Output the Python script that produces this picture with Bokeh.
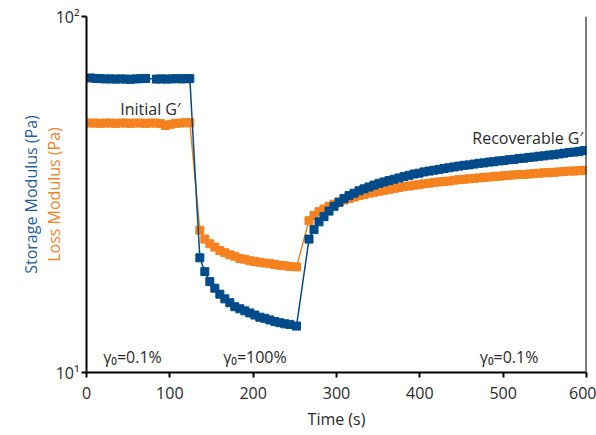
from bokeh.plotting import figure
from bokeh.models import FixedTicker, Span, Label, Title
from bokeh.embed import file_html
from bokeh.resources import INLINE

# ---- data ----
t_g1 = [5, 11, 17, 23, 29, 35, 41, 47, 53, 59, 65, 71, 84, 90, 96, 102, 108, 114, 119, 124]
g1_storage = [67.2, 67.0, 66.9, 66.8, 66.8, 66.7, 66.8, 66.7, 66.6, 66.8, 66.9, 67.0,
              66.7, 66.8, 66.7, 66.8, 66.9, 66.8, 66.9, 66.9]
t_l1 = [5, 11, 17, 23, 29, 35, 41, 47, 53, 59, 65, 71, 77, 83, 89, 95, 101, 107, 113, 119, 124]
l1_loss = [50.2, 50.2, 50.1, 50.2, 50.2, 50.1, 50.2, 50.2, 50.1, 50.2, 50.2, 50.1,
           50.2, 50.2, 50.0, 49.4, 49.8, 50.1, 50.2, 50.3, 50.3]

t_mid = [136, 142, 148, 154, 160, 166, 172, 178, 184, 190, 196, 202, 208, 214, 220,
         226, 232, 238, 244, 252]
mid_storage = [21.0, 19.2, 18.0, 17.25, 16.6, 16.1, 15.7, 15.3, 15.1, 14.9, 14.7, 14.5,
               14.3, 14.2, 14.05, 13.9, 13.8, 13.7, 13.65, 13.5]
mid_loss = [25.1, 23.7, 23.0, 22.5, 22.0, 21.7, 21.4, 21.2, 20.9, 20.8, 20.6, 20.5,
            20.4, 20.3, 20.25, 20.1, 20.0, 19.95, 19.85, 19.8]

t_rec = [267, 273, 279, 285, 291, 297, 303, 309, 315, 321, 327, 333, 339, 345, 351, 357,
         363, 369, 375, 381, 387, 393, 399, 405, 411, 417, 423, 429, 435, 441, 447, 453,
         459, 465, 471, 477, 483, 489, 495, 501, 507, 513, 519, 525, 531, 537, 543, 549,
         555, 561, 567, 573, 579, 585, 591, 597]
rec_storage = [23.7, 25.2, 26.5, 27.4, 28.4, 29.3, 30.1, 30.8, 31.4, 31.9, 32.4, 32.8,
               33.2, 33.6, 34.0, 34.3, 34.6, 34.9, 35.2, 35.5, 35.8, 36.1, 36.3, 36.6,
               36.8, 37.0, 37.2, 37.4, 37.6, 37.8, 38.0, 38.2, 38.3, 38.5, 38.7, 38.8,
               39.0, 39.1, 39.3, 39.4, 39.6, 39.7, 39.9, 40.0, 40.2, 40.3, 40.5, 40.6,
               40.8, 40.9, 41.1, 41.3, 41.5, 41.6, 41.8, 42.0]
rec_loss = [26.7, 27.6, 28.3, 28.8, 29.3, 29.7, 30.1, 30.5, 30.8, 31.1, 31.4, 31.6,
            31.9, 32.1, 32.3, 32.5, 32.7, 32.9, 33.1, 33.3, 33.4, 33.6, 33.7, 33.9,
            34.0, 34.2, 34.3, 34.4, 34.5, 34.7, 34.8, 34.9, 35.0, 35.1, 35.2, 35.3,
            35.4, 35.5, 35.6, 35.7, 35.8, 35.9, 36.0, 36.0, 36.1, 36.2, 36.3, 36.4,
            36.4, 36.5, 36.6, 36.7, 36.8, 36.8, 36.9, 37.0]

x_ticks = [0, 100, 200, 300, 400, 500, 600]
y_ticks = [10, 100]
y_tick_labels = {10: "10\u00b9", 100: "10\u00b2"}

BLUE = "#004b8a"
BLUE_TXT = "#1f5fa0"
ORANGE = "#f5821f"
FONT = "Open Sans"
TXT = "#2a2a2a"

t_storage = t_g1 + t_mid + t_rec
storage = g1_storage + mid_storage + rec_storage
t_loss = t_l1 + t_mid + t_rec
loss = l1_loss + mid_loss + rec_loss

p = figure(width=596, height=435, x_range=(0, 600), y_range=(10, 100),
           y_axis_type="log", output_backend="svg", toolbar_location=None,
           min_border_left=86, min_border_right=10, min_border_top=16,
           min_border_bottom=63)
p.outline_line_color = None
p.xgrid.visible = False
p.ygrid.visible = False
p.background_fill_color = "white"

# loss first (storage drawn on top)
p.line(t_loss, loss, line_color=ORANGE, line_width=1.5)
p.scatter(t_loss, loss, marker="square", size=8, fill_color=ORANGE, line_color=ORANGE)
p.line(t_storage, storage, line_color=BLUE, line_width=1.5)
p.scatter(t_storage, storage, marker="square", size=8, fill_color=BLUE, line_color=BLUE)

p.add_layout(Span(location=600, dimension="height", line_color="black", line_width=2))

for ax in (p.xaxis[0], p.yaxis[0]):
    ax.axis_line_width = 2
    ax.axis_line_color = "black"
    ax.major_tick_line_width = 2
    ax.major_tick_line_color = "black"
    ax.major_tick_in = 0
    ax.major_tick_out = 5
    ax.minor_tick_line_color = None
    ax.major_label_text_font = FONT
    ax.major_label_text_font_size = "16px"
    ax.major_label_text_color = TXT

p.xaxis.ticker = FixedTicker(ticks=x_ticks, minor_ticks=[])
p.yaxis.ticker = FixedTicker(ticks=y_ticks, minor_ticks=[])
p.yaxis.major_label_overrides = y_tick_labels
p.yaxis.major_label_standoff = 2
p.xaxis.major_label_standoff = 9
p.xaxis.axis_label = "Time (s)"
p.xaxis.axis_label_text_font = FONT
p.xaxis.axis_label_text_font_size = "16px"
p.xaxis.axis_label_text_font_style = "normal"
p.xaxis.axis_label_text_color = TXT
p.xaxis.axis_label_standoff = 6

# y-axis titles: loss (orange) as axis label, storage (blue) as a left title
p.yaxis.axis_label = "Loss Modulus (Pa)"
p.yaxis.axis_label_text_font = FONT
p.yaxis.axis_label_text_font_size = "16px"
p.yaxis.axis_label_text_font_style = "normal"
p.yaxis.axis_label_text_color = ORANGE
p.yaxis.axis_label_standoff = -12
p.add_layout(Title(text="Storage Modulus (Pa)", align="center", text_color=BLUE_TXT,
                   text_font=FONT, text_font_size="16px", text_font_style="normal",
                   standoff=-4), "left")

def lab(x, y, text, align="left", size="16px"):
    p.add_layout(Label(x=x, y=y, text=text, text_align=align, text_baseline="middle",
                       text_color=TXT, text_font=FONT, text_font_size=size))

lab(113, 54.8, "Initial G\u2032", align="right")
lab(596, 45.6, "Recoverable G\u2032", align="right")
lab(20, 11.04, "\u03b3\u2080=0.1%")
lab(164, 11.04, "\u03b3\u2080=100%")
lab(472, 11.04, "\u03b3\u2080=0.1%")

open("out.html", "w").write(file_html(p, INLINE))
